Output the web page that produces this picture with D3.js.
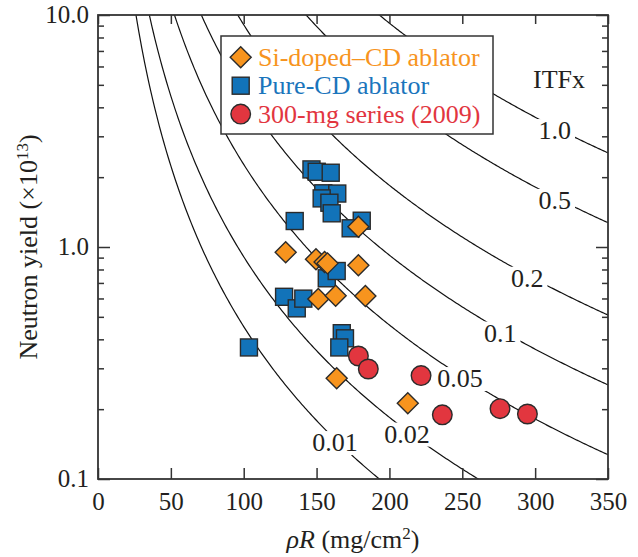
<!DOCTYPE html>
<head>
<meta charset="utf-8">
<script src="https://d3js.org/d3.v7.min.js"></script>
<style>
    body {
        margin: 0;
        background: #fff;
    }
    svg text {
        font-family: "Liberation Serif", "Times New Roman", serif;
        font-size: 26px;
        fill: #231f20;
    }
    .axis text {
        font-size: 25px;
    }
    .axis path {
        display: none;
    }
    .axis line {
        stroke: #333;
        stroke-width: 1.5px;
    }
    .curve {
        fill: none;
        stroke: #111;
        stroke-width: 1.2px;
    }
</style>
</head>
<body>
<script>

// measured points: [rhoR (mg/cm2), neutron yield (x1e13)]
var siDoped = [
    [128.8, 0.949], [149.6, 0.885], [155.5, 0.862], [157.5, 0.85],
    [178.7, 1.223], [178.7, 0.834], [151.2, 0.597], [163.1, 0.617],
    [183.5, 0.615], [163.8, 0.272], [212.6, 0.212]
];
var pureCD = [
    [103.6, 0.369], [127.7, 0.61], [136.4, 0.544], [140.9, 0.599],
    [135.0, 1.294], [146.5, 2.16], [150.1, 2.11], [159.7, 2.09],
    [154.6, 1.704], [164.2, 1.70], [153.5, 1.62], [158.8, 1.552],
    [160.4, 1.397], [181.0, 1.298], [173.4, 1.204], [157.0, 0.733],
    [163.8, 0.788], [167.3, 0.425], [169.5, 0.404], [165.6, 0.369]
];
var series300mg = [
    [178.7, 0.339], [185.5, 0.298], [221.7, 0.279],
    [236.3, 0.189], [275.9, 0.201], [294.7, 0.1906]
];

// ITFx contours and where their labels sit (rhoR)
var itfxValues = [0.01, 0.02, 0.05, 0.1, 0.2, 0.5, 1.0];
var itfxLabels = ["0.01", "0.02", "0.05", "0.1", "0.2", "0.5", "1.0"];
var itfxLabelRhoR = [162.7, 212, 248.5, 276, 294.5, 313.5, 313.5];

var xTicks = [0, 50, 100, 150, 200, 250, 300, 350];
var yMajor = [0.1, 1, 10];
var yMajorLabels = ["0.1", "1.0", "10.0"];
var yMinor = [0.2, 0.3, 0.4, 0.5, 0.6, 0.7, 0.8, 0.9, 2, 3, 4, 5, 6, 7, 8, 9];

var legendItems = [
    {name: "Si-doped\u2013CD ablator", shape: "diamond", color: "#f7941e", text: "#f7941e"},
    {name: "Pure-CD ablator", shape: "square", color: "#1273b9", text: "#1a75bc"},
    {name: "300-mg series (2009)", shape: "circle", color: "#e2363f", text: "#e2363f"}
];

var margin = {top: 15, right: 30, bottom: 78, left: 98},
    width = 638 - margin.left - margin.right,
    height = 557 - margin.top - margin.bottom;

var x = d3.scaleLinear().domain([0, 350]).range([0, width]);
var y = d3.scaleLog().domain([0.1, 10]).range([height, 0]);

// yield on an ITFx contour: Y ~ ITFx * rhoR^-2.3
function itfxYield(itfx, r) {
    return 2.545 * itfx * Math.pow(350 / r, 2.3);
}

var svg = d3.select("body").append("svg")
    .attr("width", 638)
    .attr("height", 557)
    .append("g")
    .attr("transform", "translate(" + margin.left + "," + margin.top + ")");

svg.append("clipPath").attr("id", "clip")
    .append("rect").attr("width", width).attr("height", height);

// contours
var line = d3.line()
    .x(function(d) { return x(d[0]); })
    .y(function(d) { return y(d[1]); });

var rhoSteps = d3.range(15, 351, 1);
var curves = svg.append("g").attr("clip-path", "url(#clip)");
itfxValues.forEach(function(v) {
    curves.append("path")
        .attr("class", "curve")
        .attr("d", line(rhoSteps.map(function(r) { return [r, Math.min(itfxYield(v, r), 50)]; })));
});

// contour labels with a white gap behind them
itfxValues.forEach(function(v, i) {
    var r = itfxLabelRhoR[i];
    var g = svg.append("g");
    var t = g.append("text")
        .attr("x", x(r))
        .attr("y", y(itfxYield(v, r)))
        .attr("dy", "0.45em")
        .attr("text-anchor", "middle")
        .text(itfxLabels[i]);
    var b = t.node().getBBox();
    g.insert("rect", "text")
        .attr("x", b.x - 4).attr("y", b.y + 3)
        .attr("width", b.width + 8).attr("height", b.height - 5)
        .attr("fill", "#fff");
});

svg.append("text")
    .attr("x", 435).attr("y", 73)
    .text("ITFx");

// axes
svg.append("g").attr("class", "axis")
    .attr("transform", "translate(0," + height + ")")
    .call(d3.axisBottom(x).tickValues(xTicks).tickSizeInner(-11).tickSizeOuter(0).tickPadding(13)
        .tickFormat(d3.format("d")));

svg.append("g").attr("class", "axis")
    .call(d3.axisTop(x).tickValues(xTicks).tickSizeInner(-9).tickSizeOuter(0).tickFormat(""));

svg.append("g").attr("class", "axis")
    .call(d3.axisLeft(y).tickValues(yMajor).tickSizeInner(-12).tickSizeOuter(0).tickPadding(9)
        .tickFormat(function(d, i) { return yMajorLabels[i]; }))
    .selectAll("text").attr("dy", "0.3em");

svg.append("g").attr("class", "axis")
    .call(d3.axisLeft(y).tickValues(yMinor).tickSizeInner(-6).tickSizeOuter(0).tickFormat(""));

svg.append("g").attr("class", "axis")
    .attr("transform", "translate(" + width + ",0)")
    .call(d3.axisRight(y).tickValues(yMajor).tickSizeInner(-12).tickSizeOuter(0).tickFormat(""));

svg.append("g").attr("class", "axis")
    .attr("transform", "translate(" + width + ",0)")
    .call(d3.axisRight(y).tickValues(yMinor).tickSizeInner(-6).tickSizeOuter(0).tickFormat(""));

svg.append("rect")
    .attr("width", width).attr("height", height)
    .attr("fill", "none").attr("stroke", "#333").attr("stroke-width", 1.8);

// markers
function drawShape(sel, shape, color) {
    if (shape === "square") {
        sel.append("rect").attr("x", -8.5).attr("y", -8.5).attr("width", 17).attr("height", 17);
    } else if (shape === "diamond") {
        sel.append("path").attr("d", "M0,-10.5L10.5,0L0,10.5L-10.5,0Z");
    } else {
        sel.append("circle").attr("r", 9.8);
    }
    sel.selectAll("*").attr("fill", color).attr("stroke", "#2b2b2b").attr("stroke-width", 1.4);
}

[[pureCD, "square", "#1273b9"], [siDoped, "diamond", "#f7941e"], [series300mg, "circle", "#e2363f"]]
    .forEach(function(s) {
        svg.append("g").selectAll("g")
            .data(s[0])
            .enter().append("g")
            .attr("transform", function(d) { return "translate(" + x(d[0]) + "," + y(d[1]) + ")"; })
            .each(function() { drawShape(d3.select(this), s[1], s[2]); });
    });

// legend
var legend = svg.append("g").attr("transform", "translate(123,21)");
legend.append("rect")
    .attr("width", 272).attr("height", 98)
    .attr("fill", "#fff").attr("stroke", "#333").attr("stroke-width", 1.5);
legendItems.forEach(function(d, i) {
    var g = legend.append("g").attr("transform", "translate(0," + (21.3 + i * 28.4) + ")");
    drawShape(g.append("g").attr("transform", "translate(19.7,0)"), d.shape, d.color);
    g.append("text")
        .attr("x", 37).attr("dy", "0.33em")
        .style("fill", d.text)
        .text(d.name);
});

// axis titles
var xt = svg.append("text")
    .attr("x", width / 2).attr("y", height + 69)
    .attr("text-anchor", "middle");
xt.append("tspan").attr("font-style", "italic").text("\u03c1R");
xt.append("tspan").text(" (mg/cm");
xt.append("tspan").style("font-size", "17px").attr("dy", "-9").text("2");
xt.append("tspan").attr("dy", "9").text(")");

var yt = svg.append("text")
    .attr("transform", "translate(" + (-61) + "," + (height / 2) + ") rotate(-90)")
    .attr("text-anchor", "middle");
yt.append("tspan").text("Neutron yield (\u00d710");
yt.append("tspan").style("font-size", "17px").attr("dy", "-9").text("13");
yt.append("tspan").attr("dy", "9").text(")");

</script>
</body>
